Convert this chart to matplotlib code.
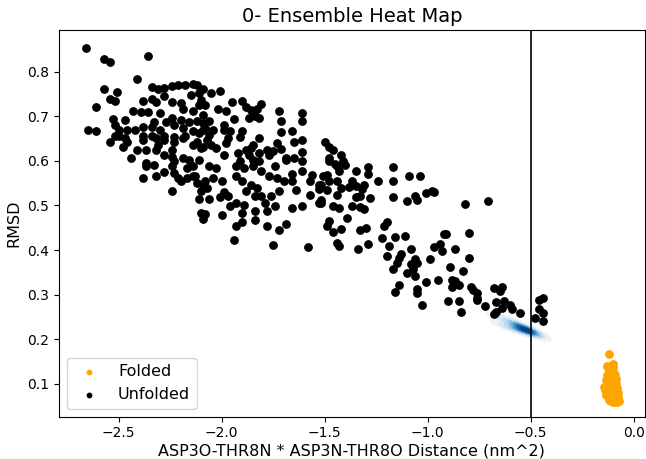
import numpy as np
import matplotlib
matplotlib.use("Agg")
import matplotlib.pyplot as plt
import seaborn as sns

title = "0- Ensemble Heat Map"
xlabel = "ASP3O-THR8N * ASP3N-THR8O Distance (nm^2)"
ylabel = "RMSD"
cutoff_x = -0.5

unfolded_xy = np.array([
    (-2.66,0.853),(-2.57,0.829),(-2.54,0.822),(-2.36,0.835),(-2.41,0.783),(-2.57,0.761),(-2.51,0.754),
    (-2.54,0.739),(-2.52,0.735),(-2.61,0.722),(-2.65,0.669),(-2.61,0.667),(-2.34,0.765),(-2.31,0.761),
    (-2.28,0.763),(-2.24,0.767),(-2.21,0.771),(-2.18,0.770),(-2.14,0.772),(-2.09,0.761),(-2.11,0.752),
    (-2.15,0.748),(-2.38,0.735),(-2.34,0.738),(-2.32,0.732),(-2.28,0.745),(-2.24,0.731),(-2.20,0.729),
    (-2.19,0.716),(-2.14,0.713),(-2.10,0.737),(-2.43,0.711),(-2.39,0.709),(-2.36,0.709),(-2.30,0.707),
    (-2.33,0.688),(-2.24,0.696),(-2.20,0.692),(-2.16,0.688),(-2.09,0.703),(-2.53,0.695),(-2.47,0.692),
    (-2.52,0.681),(-2.50,0.670),(-2.46,0.670),(-2.42,0.670),(-2.38,0.675),(-2.34,0.675),(-2.30,0.670),
    (-2.27,0.688),(-2.23,0.681),(-2.19,0.673),(-2.14,0.666),(-2.09,0.670),(-2.52,0.655),(-2.47,0.651),
    (-2.38,0.655),(-2.32,0.651),(-2.28,0.655),(-2.23,0.653),(-2.18,0.656),
    (-2.12,0.770),(-2.05,0.752),(-2.01,0.756),(-2.11,0.725),(-2.08,0.725),(-2.02,0.716),(-1.98,0.711),
    (-1.95,0.731),(-1.90,0.734),(-1.88,0.722),(-1.86,0.714),(-1.83,0.716),(-1.81,0.728),(-1.72,0.713),
    (-1.61,0.707),(-1.71,0.689),(-1.61,0.689),(-1.87,0.696),(-1.84,0.700),(-1.82,0.696),(-1.94,0.694),
    (-2.12,0.689),(-2.09,0.685),(-2.06,0.689),(-2.08,0.673),(-2.04,0.670),(-1.99,0.681),(-1.99,0.670),
    (-1.96,0.666),(-1.90,0.666),(-1.91,0.653),(-1.97,0.651),(-1.98,0.640),(-2.06,0.659),(-2.07,0.647),
    (-2.05,0.636),(-2.11,0.662),(-2.12,0.643),(-2.09,0.632),(-2.03,0.630),(-1.99,0.613),(-1.92,0.617),
    (-1.88,0.624),(-1.86,0.628),(-1.82,0.651),(-1.85,0.636),(-1.87,0.613),(-1.82,0.617),(-1.78,0.624),
    (-1.75,0.623),(-1.73,0.640),(-1.71,0.626),(-1.77,0.613),(-1.69,0.606),(-1.65,0.643),(-1.61,0.647),
    (-1.61,0.621),(-1.66,0.666),(-1.71,0.664),(-1.50,0.643),
    (-2.54,0.643),(-2.50,0.655),(-2.46,0.643),(-2.48,0.632),(-2.41,0.625),(-2.38,0.647),(-2.37,0.625),
    (-2.34,0.655),(-2.31,0.636),(-2.32,0.625),(-2.28,0.647),(-2.24,0.625),(-2.23,0.643),(-2.19,0.651),
    (-2.14,0.636),(-2.10,0.628),(-2.44,0.606),(-2.37,0.595),(-2.33,0.591),(-2.28,0.613),(-2.24,0.609),
    (-2.23,0.599),(-2.19,0.606),(-2.16,0.603),(-2.11,0.603),(-2.37,0.588),(-2.28,0.576),(-2.24,0.588),
    (-2.23,0.573),(-2.17,0.584),(-2.14,0.588),(-2.38,0.562),(-2.32,0.567),(-2.21,0.562),(-2.20,0.555),
    (-2.17,0.562),(-2.14,0.566),(-2.12,0.551),(-2.09,0.547),(-2.24,0.533),(-2.10,0.533),(-2.11,0.514),
    (-2.10,0.484),(-2.09,0.469),
    (-2.06,0.588),(-2.03,0.584),(-1.85,0.603),(-1.82,0.599),(-1.91,0.599),(-1.93,0.588),(-1.89,0.584),
    (-1.85,0.588),(-1.81,0.577),(-1.74,0.588),(-1.69,0.603),(-1.65,0.606),(-1.61,0.599),(-2.13,0.566),
    (-2.08,0.555),(-2.04,0.562),(-2.07,0.539),(-2.00,0.554),(-1.99,0.531),(-1.93,0.566),(-1.90,0.554),
    (-1.86,0.547),(-1.83,0.539),(-1.81,0.521),(-1.77,0.566),(-1.73,0.562),(-1.70,0.555),(-1.66,0.555),
    (-1.66,0.570),(-1.61,0.577),(-1.56,0.569),(-1.57,0.555),(-1.52,0.547),(-1.57,0.524),(-1.52,0.505),
    (-1.64,0.534),(-2.06,0.514),(-2.01,0.518),(-1.97,0.522),(-1.93,0.505),(-1.88,0.533),(-1.84,0.521),
    (-1.76,0.521),(-1.72,0.533),(-1.79,0.505),(-1.74,0.498),(-1.66,0.494),(-1.61,0.498),(-2.08,0.481),
    (-2.00,0.479),(-1.96,0.498),(-1.90,0.483),(-1.89,0.500),(-1.84,0.487),(-1.78,0.487),(-1.90,0.464),
    (-1.84,0.468),(-1.93,0.455),(-1.78,0.455),(-1.69,0.459),(-1.72,0.445),
    (-1.94,0.422),(-1.75,0.412),(-1.58,0.406),
    (-1.48,0.632),(-1.46,0.625),(-1.42,0.613),(-1.48,0.606),(-1.48,0.599),(-1.45,0.593),(-1.41,0.599),
    (-1.40,0.591),(-1.44,0.588),(-1.43,0.578),(-1.35,0.578),(-1.29,0.586),(-1.29,0.571),(-1.17,0.586),
    (-1.24,0.556),(-1.17,0.554),(-1.09,0.565),(-1.04,0.565),(-1.51,0.565),(-1.49,0.569),(-1.53,0.547),
    (-1.53,0.537),(-1.48,0.554),(-1.49,0.535),(-1.44,0.555),(-1.42,0.539),(-1.38,0.541),(-1.37,0.556),
    (-1.35,0.543),(-1.32,0.537),(-1.31,0.547),(-1.44,0.524),(-1.35,0.518),(-1.33,0.521),(-1.28,0.516),
    (-1.17,0.518),(-1.06,0.521),(-1.01,0.527),(-0.98,0.533),
    (-1.53,0.505),(-1.52,0.513),(-1.10,0.509),(-1.05,0.513),(-1.46,0.498),(-1.43,0.494),(-1.37,0.499),
    (-1.33,0.496),(-1.31,0.491),(-1.39,0.473),(-1.48,0.465),(-1.49,0.454),(-1.42,0.448),(-1.46,0.440),
    (-1.33,0.444),(-1.30,0.449),(-1.20,0.462),(-1.21,0.453),(-1.44,0.415),(-1.43,0.408),(-1.34,0.402),
    (-1.29,0.414),(-1.22,0.427),(-1.16,0.430),(-1.11,0.432),(-1.19,0.410),(-1.20,0.386),(-1.13,0.391),
    (-1.14,0.382),(-1.08,0.403),(-0.97,0.406),(-0.94,0.413),(-0.93,0.398),(-0.99,0.380),(-0.92,0.435),
    (-1.06,0.380),(-1.08,0.368),(-1.05,0.371),(-1.15,0.371),(-1.17,0.358),(-1.07,0.358),(-1.10,0.348),
    (-1.06,0.341),(-1.01,0.328),(-0.95,0.333),(-1.14,0.321),(-1.05,0.313),(-1.16,0.306),(-1.05,0.303),
    (-1.03,0.277),
    (-0.97,0.531),(-0.82,0.504),(-0.71,0.510),(-0.91,0.436),(-0.80,0.438),(-0.87,0.402),
    (-0.80,0.383),(-0.89,0.362),(-0.83,0.354),(-0.88,0.333),(-0.87,0.330),(-0.85,0.322),(-0.88,0.316),
    (-0.79,0.316),(-0.78,0.311),(-0.76,0.303),(-0.76,0.292),(-0.76,0.288),(-0.68,0.314),(-0.64,0.316),
    (-0.65,0.309),(-0.90,0.286),(-0.85,0.286),(-0.84,0.262),(-0.72,0.274),(-0.67,0.283),(-0.63,0.285),
    (-0.64,0.271),(-0.67,0.261),(-0.68,0.256),(-0.60,0.277),(-0.59,0.268),(-0.55,0.259),(-0.46,0.288),
    (-0.44,0.293),(-0.46,0.268),(-0.44,0.258),(-0.48,0.247),(-0.44,0.241),
])

folded_xy = np.array([
    (-0.121,0.167),(-0.132,0.140),(-0.103,0.145),(-0.146,0.093),(-0.125,0.135),(-0.115,0.130),
    (-0.105,0.128),(-0.095,0.125),(-0.128,0.120),(-0.118,0.118),(-0.108,0.115),(-0.098,0.112),
    (-0.088,0.110),(-0.135,0.108),(-0.125,0.105),(-0.115,0.102),(-0.105,0.100),(-0.095,0.098),
    (-0.085,0.100),(-0.132,0.095),(-0.122,0.092),(-0.112,0.090),(-0.102,0.088),(-0.092,0.087),
    (-0.082,0.090),(-0.138,0.085),(-0.128,0.082),(-0.118,0.080),(-0.108,0.078),(-0.098,0.077),
    (-0.088,0.076),(-0.078,0.080),(-0.135,0.075),(-0.125,0.072),(-0.115,0.070),(-0.105,0.068),
    (-0.095,0.068),(-0.085,0.066),(-0.075,0.070),(-0.120,0.064),(-0.110,0.062),(-0.100,0.060),
    (-0.090,0.059),(-0.080,0.060),(-0.072,0.062),(-0.095,0.105),(-0.110,0.108),(-0.090,0.120),
    (-0.100,0.138),(-0.112,0.122),
])

heat_xy = np.array([
    (-0.66,0.248),(-0.64,0.231),(-0.62,0.246),(-0.61,0.230),(-0.60,0.237),(-0.59,0.222),(-0.58,0.238),
    (-0.57,0.225),(-0.565,0.230),(-0.56,0.220),(-0.555,0.232),(-0.55,0.224),(-0.545,0.226),(-0.54,0.219),
    (-0.535,0.226),(-0.53,0.222),(-0.53,0.229),(-0.525,0.215),(-0.52,0.222),(-0.52,0.218),(-0.515,0.224),
    (-0.51,0.214),(-0.505,0.219),(-0.50,0.215),(-0.495,0.220),(-0.49,0.210),(-0.48,0.216),(-0.47,0.210),
])

fig = plt.figure(figsize=(6.46, 4.59), dpi=100)
ax = fig.add_axes([0.0913, 0.092, 0.9067, 0.843])

sns.kdeplot(x=heat_xy[:, 0], y=heat_xy[:, 1], fill=True, cmap="Blues",
            levels=10, thresh=0.03, bw_adjust=1.4, ax=ax)
ax.scatter(folded_xy[:, 0], folded_xy[:, 1], s=28, color="orange", label="Folded")
ax.scatter(unfolded_xy[:, 0], unfolded_xy[:, 1], s=28, color="black", label="Unfolded")
ax.axvline(cutoff_x, color="black", lw=1.2)

ax.set_xlim(-2.79, 0.053)
ax.set_ylim(0.026, 0.894)
ax.set_xticks([-2.5, -2.0, -1.5, -1.0, -0.5, 0.0])
ax.set_yticks([0.1, 0.2, 0.3, 0.4, 0.5, 0.6, 0.7, 0.8])
ax.tick_params(labelsize=10)
ax.set_title(title, fontsize=14)
ax.set_xlabel(xlabel, fontsize=11.5, labelpad=2)
ax.set_ylabel(ylabel, fontsize=11.5)
ax.legend(loc="lower left", fontsize=11.5, markerscale=0.6)

fig.savefig("out.png", dpi=100)
